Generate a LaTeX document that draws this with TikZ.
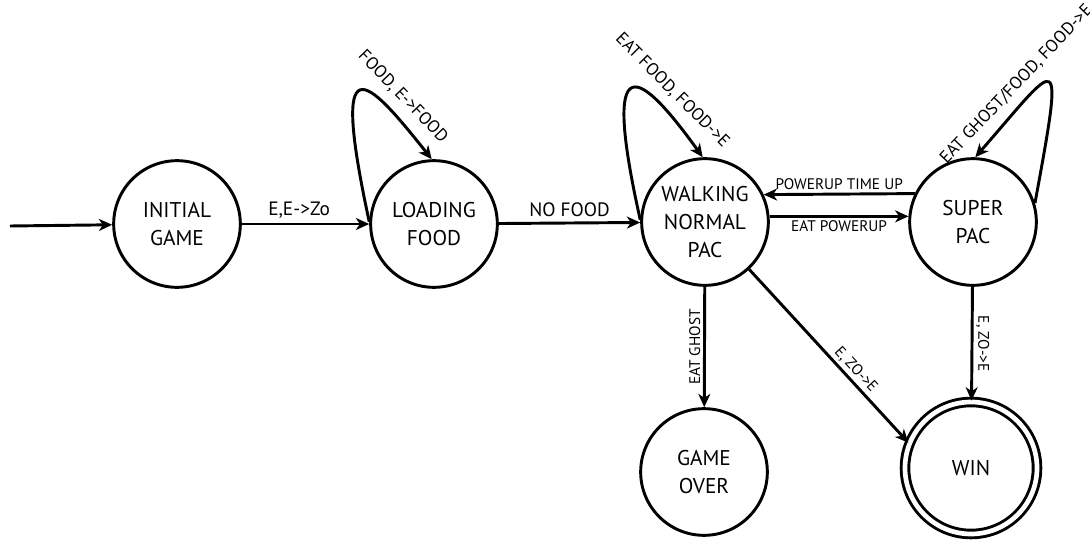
\documentclass[tikz,border=0pt]{standalone}
\usepackage{fontspec}
\setmainfont{PT Sans}
\usetikzlibrary{arrows.meta}
\newcommand{\nfont}{\fontsize{16}{21}\selectfont}
\newcommand{\efont}{\fontsize{11.5}{13}\selectfont}
\newcommand{\bfont}{\fontsize{14.5}{16}\selectfont}
\newcommand{\lfont}{\fontsize{13}{15}\selectfont}

\begin{document}
\begin{tikzpicture}[x=0.75pt,y=-0.75pt,line width=2.2pt,>={Stealth[length=10pt,width=9pt,inset=3pt]},
    snode/.style={draw,circle,minimum size=95pt,inner sep=0pt,align=center,font=\nfont},
    fnode/.style={snode,double,double distance=3.5pt,minimum size=99pt},
    elabel/.style={font=\efont,inner sep=2pt},
    llabel/.style={font=\lfont,inner sep=2pt}]
    \useasboundingbox (0,0) rectangle (1090,542);
    \coordinate (s) at (10,226);
    \node[snode] (ig) at (177,224) {INITIAL\\GAME};
    \node[snode] (lf) at (434,224) {LOADING\\FOOD};
    \node[snode] (wk) at (705,222) {WALKING\\NORMAL\\PAC};
    \node[snode] (sp) at (973,222) {SUPER\\PAC};
    \node[snode] (go) at (704,472) {GAME\\OVER};
    \node[fnode] (win) at (971,468) {WIN};

    \draw[->] (s) -- (ig);
    \draw[->] (ig) -- node [pos=0.45, above, font=\bfont] {E,E->Zo} (lf);
    \draw[->] (lf) -- node [pos=0.5, above, font=\bfont] {NO FOOD} (wk);
    \draw[->] (sp.154.5) -- node [pos=0.5, above, elabel] {POWERUP TIME UP} (wk.25.5);
    \draw[->] (wk.5) -- node [pos=0.5, below, elabel] {EAT POWERUP} (sp.175);
    \draw[->] (wk) -- node [midway, rotate=90, anchor=south, elabel] {EAT GHOST} (go);
    \draw[->] (sp) -- node [midway, rotate=-90, anchor=south, elabel] {E, ZO->E} (win);
    \draw[->] (wk.-47) -- node [pos=0.62, sloped, above, elabel] {E, ZO->E} (win.158);

    % self loops
    \draw[->] (lf.178) .. controls (330,40) and (365,75) .. (lf.92)
        node [pos=0.76, sloped, above=5pt, llabel] {FOOD, E->FOOD};
    \draw[->] (wk.178) .. controls (600,40) and (640,70) .. (wk.92)
        node [pos=0.74, sloped, above=5pt, llabel] {EAT FOOD, FOOD->E};
    \draw[->] (sp.17) .. controls (1065,40) and (1060,60) .. (sp.88)
        node [pos=0.72, sloped, above=4pt, llabel] {EAT GHOST/FOOD, FOOD->E};
\end{tikzpicture}
\end{document}
